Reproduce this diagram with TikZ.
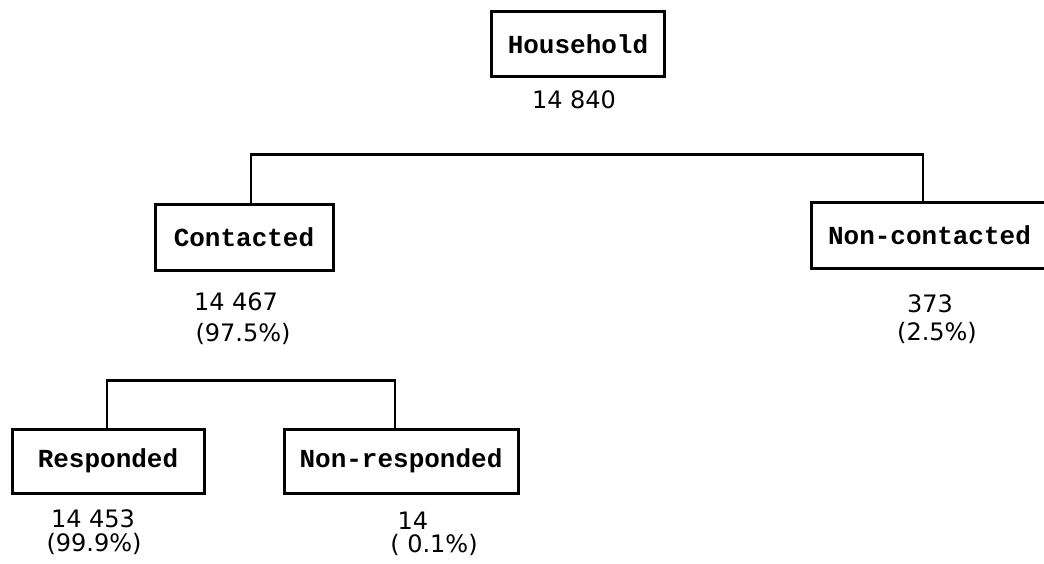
\documentclass[tikz,border=0pt]{standalone}
\usepackage{fontspec}
\setmonofont{Liberation Mono}
\newfontfamily\countfont{DejaVu Sans}
\begin{document}
\begin{tikzpicture}[x=1pt,y=-1pt]
                \tikzstyle{every node}+=[inner sep=0pt]
                \tikzstyle{tbox}=[draw=black,line width=3pt,minimum height=65pt,font=\fontsize{26}{26}\selectfont\ttfamily\bfseries]
                \tikzstyle{count}=[font=\fontsize{24}{24}\selectfont\countfont]
                \tikzstyle{link}=[black,line width=2.2pt]
                \useasboundingbox (0,0) rectangle (1044,564);
                % boxes
                \node [tbox,minimum width=173pt] (household) at (578,44.5) {Household};
                \node [tbox,minimum width=178pt] (contacted) at (244,237.5) {Contacted};
                \node [tbox,minimum width=237pt] (noncontacted) at (929.5,235.5) {Non-contacted};
                \node [tbox,minimum width=192pt,minimum height=64pt] (responded) at (108,461) {Responded};
                \node [tbox,minimum width=234pt,minimum height=64pt] (nonresponded) at (401,461) {Non-responded};
                % counts
                \node [count] (household-n) at (574,100) {14 840};
                \node [count] (contacted-n) at (236,302) {14 467};
                \node [count] (contacted-p) at (243,334) {(97.5\%)};
                \node [count] (noncontacted-n) at (930,304) {373};
                \node [count] (noncontacted-p) at (937,333) {(2.5\%)};
                \node [count] (responded-n) at (93,519) {14 453};
                \node [count] (responded-p) at (94,544) {(99.9\%)};
                \node [count] (nonresponded-n) at (413,521) {14};
                \node [count] (nonresponded-p) at (434,545) {( 0.1\%)};
                % brackets
                \draw [link] ([xshift=7pt]contacted.north) -- ++(0,-49) -| ([xshift=-6.5pt]noncontacted.north);
                \draw [link] ([xshift=-1pt]responded.north) -- ++(0,-47) -| ([xshift=-6pt]nonresponded.north);
\end{tikzpicture}
\end{document}
